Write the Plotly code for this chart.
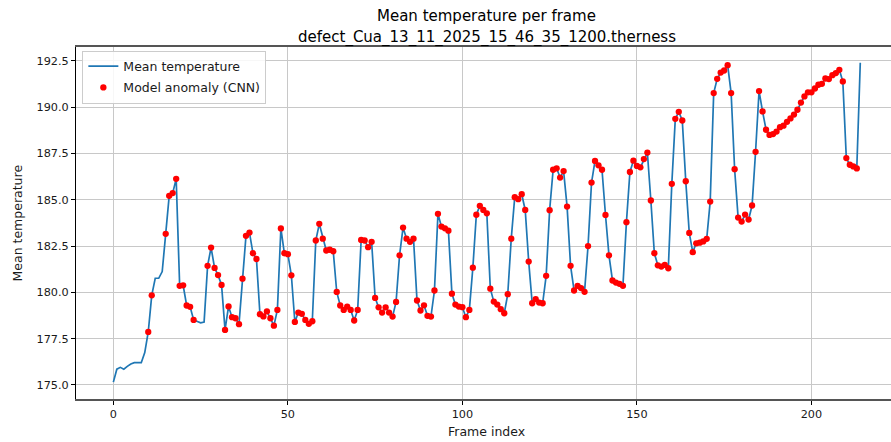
import plotly.graph_objects as go

# ---- data ----
mean_temperature = [
    175.15, 175.85, 175.95, 175.85, 176.00, 176.13, 176.20, 176.20, 176.20, 176.75,
    177.86, 179.84, 180.76, 180.76, 181.12, 183.16, 185.21, 185.36, 186.13, 180.35,
    180.38, 179.29, 179.22, 178.51, 178.42, 178.35, 178.40, 181.43, 182.42, 181.32,
    180.93, 180.40, 177.97, 179.24, 178.66, 178.60, 178.28, 180.74, 183.05, 183.23,
    182.11, 181.80, 178.82, 178.70, 178.97, 178.60, 178.20, 179.05, 183.45, 182.11,
    182.06, 180.92, 178.40, 178.91, 178.84, 178.51, 178.30, 178.44, 182.80, 183.70,
    182.90, 182.26, 182.30, 182.22, 180.02, 179.29, 179.05, 179.23, 179.05, 178.48,
    179.05, 182.83, 182.80, 182.44, 182.73, 179.70, 179.19, 178.91, 179.19, 178.91,
    178.69, 179.48, 182.00, 183.50, 182.90, 182.73, 182.90, 179.56, 179.02, 179.30,
    178.73, 178.69, 180.10, 184.24, 183.55, 183.46, 183.33, 179.93, 179.34, 179.23,
    179.20, 178.66, 179.05, 181.33, 184.19, 184.67, 184.45, 184.27, 180.20, 179.50,
    179.34, 179.09, 178.87, 179.90, 182.90, 185.14, 185.03, 185.30, 184.45, 181.66,
    179.41, 179.63, 179.45, 179.41, 180.89, 184.44, 186.62, 186.70, 186.20, 186.55,
    184.63, 181.43, 180.10, 180.35, 180.23, 180.03, 182.50, 185.93, 187.10, 186.86,
    186.62, 184.18, 182.00, 180.64, 180.53, 180.46, 180.35, 183.79, 186.50, 187.11,
    186.83, 186.75, 187.20, 187.55, 184.96, 182.11, 181.46, 181.39, 181.48, 181.30,
    185.86, 189.37, 189.75, 189.28, 186.00, 183.21, 182.17, 182.65, 182.68, 182.75,
    182.89, 184.90, 190.76, 191.53, 191.87, 191.98, 192.27, 190.76, 186.65, 184.04,
    183.82, 184.20, 183.93, 184.69, 187.59, 190.87, 189.77, 188.78, 188.50, 188.55,
    188.68, 188.92, 189.00, 189.21, 189.39, 189.60, 189.86, 190.25, 190.58, 190.80,
    190.80, 191.01, 191.21, 191.26, 191.55, 191.52, 191.73, 191.84, 192.02, 191.39,
    187.25, 186.89, 186.80, 186.69, 192.40,
]
frame_index = list(range(len(mean_temperature)))

anomaly_frames = [10, 11] + list(range(15, 24)) + list(range(27, 214))
anomaly_values = [mean_temperature[i] for i in anomaly_frames]

x_ticks = [0, 50, 100, 150, 200]
y_ticks = [175.0, 177.5, 180.0, 182.5, 185.0, 187.5, 190.0, 192.5]

title_line1 = "Mean temperature per frame"
title_line2 = "defect_Cua_13_11_2025_15_46_35_1200.therness"

FONT = "DejaVu Sans"
TXT = "#1a1a1a"

fig = go.Figure()
fig.add_trace(go.Scatter(
    x=frame_index, y=mean_temperature, mode="lines",
    name="Mean temperature", legendgroup="a",
    line=dict(color="#1f77b4", width=1.7),
))
fig.add_trace(go.Scatter(
    x=anomaly_frames, y=anomaly_values, mode="markers",
    name="Model anomaly (CNN)", legendgroup="b",
    marker=dict(color="#ff0000", size=6.3, line=dict(width=0)),
))

fig.update_layout(
    width=891, height=442,
    margin=dict(l=76, r=0, t=47, b=43, pad=0, autoexpand=False),
    paper_bgcolor="white", plot_bgcolor="white",
    font=dict(family=FONT, size=11.25, color=TXT),
    showlegend=True,
    legend=dict(
        x=0.0078, y=0.990, xanchor="left", yanchor="top",
        traceorder="grouped", tracegroupgap=2,
        bgcolor="rgba(255,255,255,0.85)", bordercolor="#cccccc", borderwidth=1,
        font=dict(family=FONT, size=12.5, color=TXT),
        itemwidth=30,
    ),
    annotations=[
        dict(text=title_line1, xref="paper", yref="paper", x=0.504, y=1,
             yshift=19.5, xanchor="center", yanchor="bottom", showarrow=False,
             font=dict(family=FONT, size=15, color="black")),
        dict(text=title_line2, xref="paper", yref="paper", x=0.504, y=1,
             yshift=-2, xanchor="center", yanchor="bottom", showarrow=False,
             font=dict(family=FONT, size=15, color="black")),
        dict(text="Frame index", xref="paper", yref="paper", x=0.504, y=0,
             yshift=-23, xanchor="center", yanchor="top", showarrow=False,
             font=dict(family=FONT, size=12.5, color=TXT)),
        dict(text="Mean temperature", xref="paper", yref="paper", x=0, y=0.5,
             xshift=-50, xanchor="right", yanchor="middle", textangle=-90,
             showarrow=False, font=dict(family=FONT, size=12.5, color=TXT)),
    ],
)

fig.update_xaxes(
    range=[-10.7, 222.8], tickvals=x_ticks, ticktext=[str(v) for v in x_ticks],
    showgrid=True, gridcolor="#c8c8c8", gridwidth=1, automargin=False,
    zeroline=False, showline=True, linecolor="#555555", linewidth=1.6, mirror=True,
    ticks="outside", ticklen=4, tickcolor="black", tickwidth=1,
    tickfont=dict(family=FONT, size=11.25, color=TXT),
)
fig.update_yaxes(
    range=[174.24, 193.25], tickvals=y_ticks, ticktext=[f"{v:.1f}" for v in y_ticks],
    showgrid=True, gridcolor="#c8c8c8", gridwidth=1, automargin=False,
    zeroline=False, showline=True, linecolor="black", linewidth=1,
    ticks="outside", ticklen=4, tickcolor="black", tickwidth=1,
    tickfont=dict(family=FONT, size=11.25, color=TXT),
)

fig.write_html(
    "out.html",
    config={"displayModeBar": False},
    post_script="document.body.style.margin='0';document.body.style.overflow='hidden';",
)
